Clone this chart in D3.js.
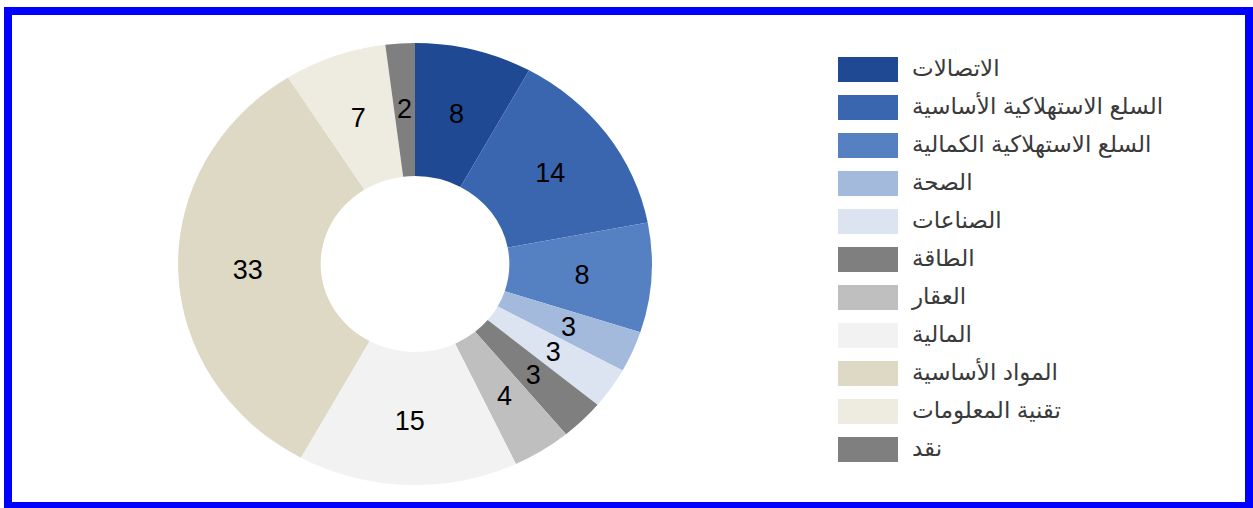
<!DOCTYPE html>
<html>
<head>
<meta charset="utf-8">
<script src="https://cdn.jsdelivr.net/npm/d3@7"></script>
<style>
  body { margin: 0; background: #fff; }
  svg { display: block; }
</style>
</head>
<body>
<div id="chart"></div>
<script>
// Data
const sectors = [
  "الاتصالات",
  "السلع الاستهلاكية الأساسية",
  "السلع الاستهلاكية الكمالية",
  "الصحة",
  "الصناعات",
  "الطاقة",
  "العقار",
  "المالية",
  "المواد الأساسية",
  "تقنية المعلومات",
  "نقد"
];
const weights = [8, 14, 8, 3, 3, 3, 4, 15, 33, 7, 2];
const colors = [
  "#1f4a93", "#3a66b0", "#5580c2", "#a3badd", "#dce3f1",
  "#7f7f7f", "#bfbfbf", "#f2f2f2", "#ddd9c4", "#eeece1", "#7f7f7f"
];

const width = 1253, height = 508;
const cx = 415, cy = 264;
const outerR = 221, innerR = 88, labelR = 156;
const stretchX = 1.072; // donut is drawn slightly wider than tall

const svg = d3.select("#chart").append("svg")
  .attr("width", width)
  .attr("height", height);

// Blue frame
svg.append("rect")
  .attr("x", 8).attr("y", 11)
  .attr("width", 1241).attr("height", 495)
  .attr("fill", "none")
  .attr("stroke", "#0000ff")
  .attr("stroke-width", 8);

const data = sectors.map((name, i) => ({ name, value: weights[i], color: colors[i] }));

const pie = d3.pie().sort(null).value(d => d.value);
const arc = d3.arc().innerRadius(innerR).outerRadius(outerR);
const labelArc = d3.arc().innerRadius(labelR).outerRadius(labelR);

const arcs = pie(data);

svg.append("g")
  .attr("transform", `translate(${cx}, ${cy}) scale(${stretchX}, 1)`)
  .selectAll("path")
  .data(arcs)
  .enter()
  .append("path")
  .attr("d", arc)
  .attr("fill", d => d.data.color);

svg.append("g")
  .attr("transform", `translate(${cx}, ${cy})`)
  .selectAll("text")
  .data(arcs)
  .enter()
  .append("text")
  .attr("transform", d => {
    const [x, y] = labelArc.centroid(d);
    return `translate(${x * stretchX}, ${y})`;
  })
  .attr("text-anchor", "middle")
  .attr("dy", "0.36em")
  .style("font-family", "Arial, 'Liberation Sans', sans-serif")
  .style("font-size", "27px")
  .attr("fill", "#000")
  .text(d => d.data.value);

// Legend
const legend = svg.append("g").attr("transform", "translate(838, 57)");
const rowH = 38;

const items = legend.selectAll("g")
  .data(data)
  .enter()
  .append("g")
  .attr("transform", (d, i) => `translate(0, ${i * rowH})`);

items.append("rect")
  .attr("width", 60)
  .attr("height", 25)
  .attr("fill", d => d.color);

items.append("text")
  .attr("x", 74)
  .attr("y", 12)
  .attr("dy", "0.3em")
  .style("font-family", "Arial, 'DejaVu Sans', sans-serif")
  .style("font-size", "23px")
  .attr("fill", "#3a3a3a")
  .text(d => d.name);
</script>
</body>
</html>
